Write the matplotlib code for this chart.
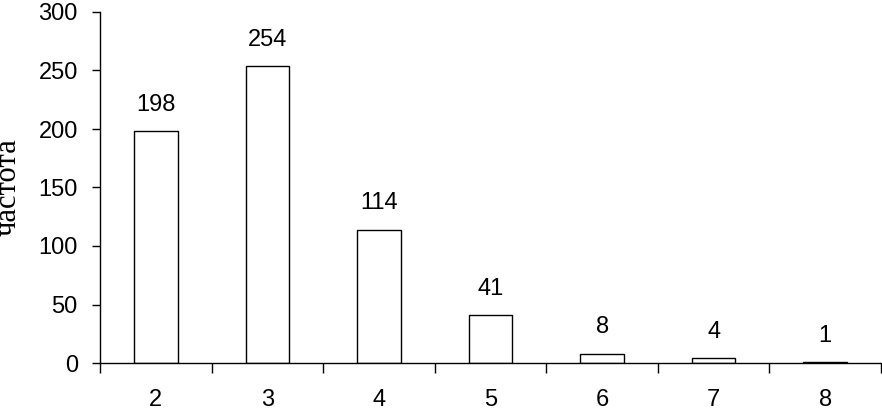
# bar chart of frequencies (частота) by value 2..8

import matplotlib.pyplot as plt
from matplotlib.ticker import FixedLocator

categories = [2, 3, 4, 5, 6, 7, 8]
counts = [198, 254, 114, 41, 8, 4, 1]
y_ticks = [0, 50, 100, 150, 200, 250, 300]

plt.rcParams["font.family"] = ["Liberation Sans", "DejaVu Sans"]

fig = plt.figure(figsize=(8.82, 4.09), dpi=100)
ax = fig.add_axes([100 / 882, 46 / 409, 781 / 882, 351 / 409])

pos = list(range(len(categories)))
bars = ax.bar(pos, counts, width=0.39, color="white", edgecolor="black", linewidth=1.0)

for b, v in zip(bars, counts):
    ax.annotate(str(v), (b.get_x() + b.get_width() / 2, b.get_height()),
                xytext=(0, 11), textcoords="offset points",
                ha="center", va="bottom", fontsize=17)

ax.set_xlim(-0.5, len(categories) - 0.5)
ax.set_ylim(0, 300)
ax.set_yticks(y_ticks)
ax.set_xticks(pos)
ax.set_xticklabels([str(c) for c in categories])
# ticks on the x axis sit between the categories
ax.xaxis.set_minor_locator(FixedLocator([p - 0.5 for p in pos] + [len(pos) - 0.5]))

ax.tick_params(axis="x", which="major", length=0, pad=19, labelsize=17)
ax.tick_params(axis="x", which="minor", length=7, width=1, direction="out")
ax.tick_params(axis="y", length=6, width=1, pad=10, labelsize=17)

for s in ["top", "right"]:
    ax.spines[s].set_visible(False)
for s in ["left", "bottom"]:
    ax.spines[s].set_linewidth(1)

fig.text(8 / 882, 1 - 187 / 409, "частота", rotation=90, ha="center", va="center",
         fontsize=22, family=["Liberation Serif", "DejaVu Serif"])

fig.savefig("out.png", dpi=100)
